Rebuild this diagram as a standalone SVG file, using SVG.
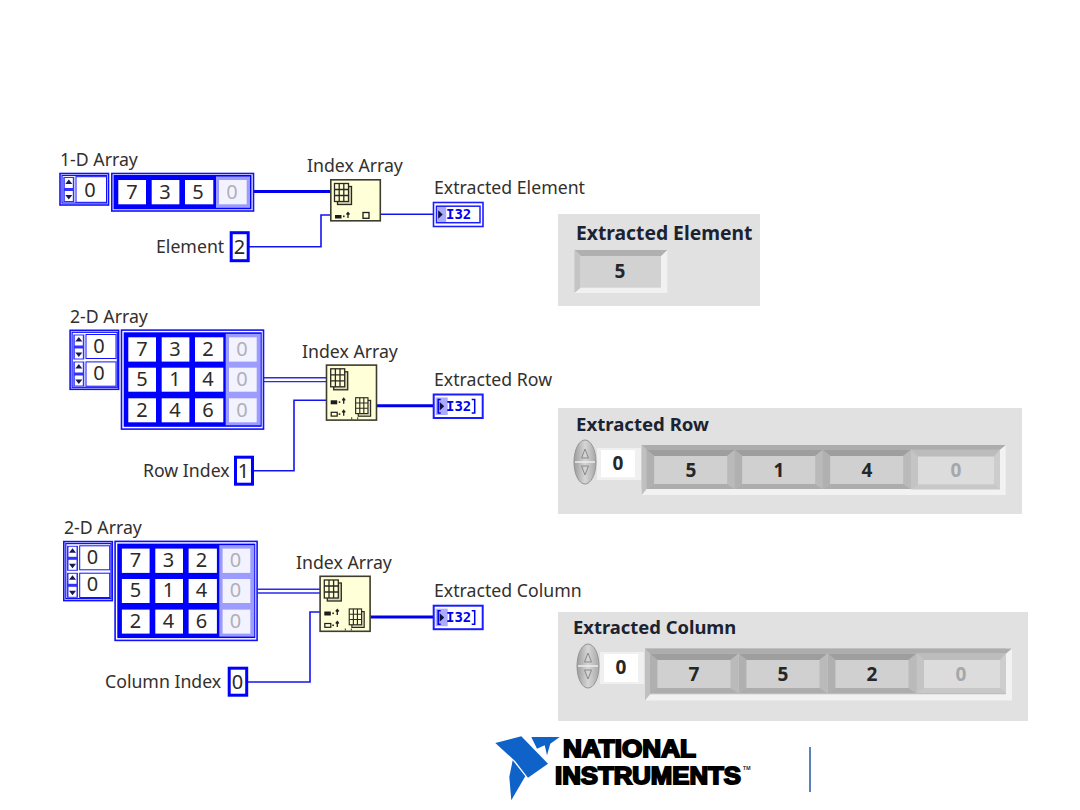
<svg xmlns="http://www.w3.org/2000/svg" xmlns:xlink="http://www.w3.org/1999/xlink" width="1080" height="810" viewBox="0 0 1080 810">
<style>
text{font-family:"Noto Sans","Open Sans","Liberation Sans",sans-serif}
.lbl{font-size:17.7px;fill:#33302e}
.d{font-size:20px;fill:#2e2a28;text-anchor:middle}
.df{font-size:20px;fill:#b0b0b8;text-anchor:middle}
.i32{font-family:"DejaVu Sans Mono","Liberation Mono",monospace;font-weight:bold;font-size:14px;fill:#0000ee}
.pl{font-weight:bold;fill:#1c2330}
.pd{font-size:19px;font-weight:bold;fill:#262626;text-anchor:middle}
.pf{font-size:19px;font-weight:bold;fill:#a4a8ac;text-anchor:middle}
.w1{fill:none;stroke:#1414f0;stroke-width:1.6}
.w3{fill:none;stroke:#0000ee;stroke-width:3}
.w2{fill:none;stroke:#2a2aee;stroke-width:1.4}
.oln{fill:#fff;stroke:#1010ff;stroke-width:1.6}
.cell{fill:#fff}
.fcell{fill:#f3f3ff}
.nd{fill:#ffffd8;stroke:#3c3c30;stroke-width:1.6}
.ic{stroke:#2a2a20;stroke-width:1.3}
.pan{fill:#e1e1e1}
.brand{font-family:"Liberation Sans",sans-serif;font-size:23.5px;font-weight:bold;fill:#000;stroke:#000;stroke-width:1.8}
</style>
<defs>
  <linearGradient id="spinFill" x1="0" y1="0" x2="1" y2="0">
    <stop offset="0" stop-color="#9c9c9c"/>
    <stop offset=".5" stop-color="#d6d6d6"/>
    <stop offset="1" stop-color="#a8a8a8"/>
  </linearGradient>
  <!-- array index spinner -->
  <g id="spin">
    <rect width="11" height="25" fill="#3030ff"/>
    <rect x="1.500" y="1" width="8" height="10" fill="#fff"/>
    <rect x="1.500" y="14" width="8" height="10" fill="#fff"/>
    <path d="M5.500 2.500L9 7H2Z M5.500 22.500L9 18H2Z" fill="#1a1a50"/>
  </g>
  <!-- layered 2-D grid glyph on Index Array -->
  <g id="grid">
    <rect x="3.500" y="3.500" width="14" height="18" fill="#d8d8b8" class="ic"/>
    <rect x="0.500" y="0.500" width="14" height="18" fill="#ffffd8" class="ic"/>
    <path d="M5.200 .5V18.500M9.800 .5V18.500M.5 6.500H14.500M.5 12.500H14.500" fill="none" class="ic"/>
  </g>
  <!-- small index-terminal tick -->
  <g id="tick">
    <rect x="0" y="0" width="1.600" height="1.600" fill="#222"/>
    <path d="M5 -2.500V2.500M3.500 -1L5 -3L6.500 -1" fill="none" stroke="#222" stroke-width="1.300"/>
  </g>
  <!-- Index Array with a row or column output -->
  <g id="idx2d">
    <rect x=".8" y=".8" width="50" height="55" class="nd"/>
    <use xlink:href="#grid" href="#grid" x="4.500" y="4"/>
    <use xlink:href="#grid" href="#grid" transform="translate(29.500 33) scale(.88)"/>
    <rect x="5" y="36" width="6.500" height="4" fill="#1c1c1c"/>
    <use xlink:href="#tick" href="#tick" x="13" y="37"/>
    <rect x="5.500" y="48" width="6" height="3.800" fill="none" stroke="#1c1c1c" stroke-width="1.200"/>
    <use xlink:href="#tick" href="#tick" x="13" y="49"/>
    <path d="M26 53v2M32 53v2" stroke="#333" stroke-width="1"/>
  </g>
  <!-- terminal frame for the scalar I32 indicator -->
  <g id="ind">
    <rect x=".8" y=".8" width="49.500" height="24" fill="#fff" stroke="#1c1cff" stroke-width="1.600"/>
    <rect x="3.800" y="4.500" width="43.500" height="16.500" fill="#fff" stroke="#1c1cff" stroke-width="1.500"/>
    <rect x="4.500" y="5.300" width="9" height="15" fill="#aaaaff"/>
    <path d="M5.500 8.500L10 12.700L5.500 17Z" fill="#10103a"/>
  </g>
  <!-- terminal frame for the array I32 indicators -->
  <g id="inda">
    <rect x="1" y="1" width="49" height="23.500" fill="#fff" stroke="#1c1cff" stroke-width="2"/>
    <rect x="3" y="4" width="12" height="17.500" fill="#aaaaff"/>
    <path d="M8 6h-2.500v13.500h2.500M39 6h3v13.500h-3" fill="none" stroke="#0000ee" stroke-width="1.500"/>
    <path d="M7 8.500L11.500 12.700L7 17Z" fill="#10103a"/>
  </g>
  <!-- diagram array frame with three rows -->
  <g id="arr3">
    <rect x=".8" y=".8" width="142" height="99" fill="#fff" stroke="#1010ff" stroke-width="1.600"/>
    <rect x="3" y="3" width="138" height="94.500" fill="#0000ff"/>
    <rect x="105" y="4.500" width="35" height="91.500" fill="#9c9cff"/>
    <g class="cell">
      <rect x="7.600" y="8" width="27.700" height="24.300"/><rect x="41" y="8" width="27.700" height="24.300"/><rect x="74.300" y="8" width="28.300" height="24.300"/>
      <rect x="7.600" y="38.400" width="27.700" height="24"/><rect x="41" y="38.400" width="27.700" height="24"/><rect x="74.300" y="38.400" width="28.300" height="24"/>
      <rect x="7.600" y="69" width="27.700" height="24"/><rect x="41" y="69" width="27.700" height="24"/><rect x="74.300" y="69" width="28.300" height="24"/>
    </g>
    <g class="fcell">
      <rect x="108.300" y="8" width="27.700" height="24.300"/><rect x="108.300" y="38.400" width="27.700" height="24"/><rect x="108.300" y="69" width="27.700" height="24"/>
    </g>
  </g>
  <!-- pair of index controls for a 2-D array -->
  <g id="ix2">
    <rect x=".8" y=".8" width="48.500" height="59" class="oln"/>
    <rect x="2.800" y="2.800" width="45.200" height="55" fill="none" stroke="#1010ff" stroke-width="1.200"/>
    <use xlink:href="#spin" href="#spin" x="4" y="5"/>
    <use xlink:href="#spin" href="#spin" x="4" y="32"/>
    <rect x="16.700" y="5" width="30" height="24" fill="#fff" stroke="#1010ff" stroke-width="1"/>
    <rect x="16.700" y="32.400" width="30" height="24.300" fill="#fff" stroke="#1010ff" stroke-width="1"/>
  </g>
  <!-- front-panel numeric indicator with raised bevel -->
  <g id="fcell">
    <path d="M0 0H88L80.500 6H7.500Z" fill="#9e9e9e"/>
    <path d="M0 0L7.500 6V34L0 39Z" fill="#b0b0b0"/>
    <path d="M0 39L7.500 34H80.500L88 39Z" fill="#adadad"/>
    <path d="M88 0L80.500 6V34L88 39Z" fill="#bababa"/>
    <rect x="7.500" y="6" width="73" height="28" fill="#d0d0d0"/>
  </g>
  <g id="fcellf">
    <path d="M0 0H89L83 7H7Z" fill="#bcbcbc"/>
    <path d="M0 0L7 7V35L0 40Z" fill="#c4c4c4"/>
    <path d="M0 40L7 35H83L89 40Z" fill="#c8c8c8"/>
    <path d="M89 0L83 7V35L89 40Z" fill="#cdcdcd"/>
    <rect x="7" y="7" width="76" height="28" fill="#dcdcdc"/>
  </g>
  <!-- front-panel index spinner -->
  <g id="fspin">
    <ellipse cx="11" cy="22" rx="11" ry="22" fill="url(#spinFill)" stroke="#949494"/>
    <path d="M1 22H21" stroke="#eee" stroke-width="1.500"/>
    <path d="M11 9L14.500 18H7.500Z M11 35L14.500 26H7.500Z" fill="none" stroke="#8a8a8a"/>
  </g>
  <!-- front-panel array frame -->
  <g id="fframe">
    <rect width="364" height="50" fill="#f2f2f2"/>
    <rect width="358" height="44" fill="#bdbdbd"/>
    <path d="M0 0H364L358 5H5Z" fill="#adadad"/>
    <path d="M0 0L5 5V44L0 50Z" fill="#c0c0c0"/>
  </g>
</defs>

<rect width="1080" height="810" fill="#fff"/>

<g id="connectors">
  <path class="w3" d="M254 191.500H332"/>
  <path class="w1" d="M249 246.700H321V215H331"/>
  <path class="w1" d="M381 214.300H434"/>
  <path class="w2" d="M264 377.800H327M264 381.600H327"/>
  <path class="w1" d="M254 470.700H294V400.300H326"/>
  <path class="w3" d="M377 405.700H434"/>
  <path class="w2" d="M257.500 589.200H320M257.500 593H320"/>
  <path class="w1" d="M248 682H310V612H320"/>
  <path class="w3" d="M370.500 617H434"/>
</g>

<g id="array-1d">
  <text class="lbl" x="60" y="166">1-D Array</text>
  <rect x="60" y="173.500" width="48.500" height="31.500" class="oln"/>
  <rect x="62" y="175.500" width="44.500" height="27.500" fill="none" stroke="#1010ff" stroke-width="1.200"/>
  <use xlink:href="#spin" href="#spin" x="63.300" y="177"/>
  <rect x="76" y="176.700" width="30.500" height="25.600" fill="#fff" stroke="#1010ff" stroke-width="1"/>
  <text class="d" x="90" y="196.500">0</text>
  <rect x="111.800" y="173.500" width="141.700" height="37.500" fill="#fff" stroke="#1010ff" stroke-width="1.600"/>
  <rect x="113.500" y="175" width="138" height="34.300" fill="#0000ff"/>
  <rect x="216" y="176.500" width="34" height="31.300" fill="#9c9cff"/>
  <g class="cell">
    <rect x="118.300" y="180" width="27.700" height="24.300"/>
    <rect x="151.700" y="180" width="27.700" height="24.300"/>
    <rect x="185" y="180" width="28.300" height="24.300"/>
  </g>
  <rect x="219" y="180" width="27.700" height="24.300" class="fcell"/>
  <text class="d" x="132" y="199">7</text>
  <text class="d" x="165" y="199">3</text>
  <text class="d" x="198" y="199">5</text>
  <text class="df" x="232" y="199">0</text>
</g>

<g id="element-control">
  <text class="lbl" x="156" y="253">Element</text>
  <rect x="231.200" y="232.700" width="17" height="28" fill="#fff" stroke="#0000ff" stroke-width="3"/>
  <text class="d" x="239.500" y="253.500">2</text>
</g>

<g id="index-array-1">
  <text class="lbl" x="307" y="172">Index Array</text>
  <rect x="330.800" y="179.800" width="49.500" height="41" class="nd"/>
  <use xlink:href="#grid" href="#grid" x="334" y="183"/>
  <rect x="335" y="215" width="6.500" height="3.500" fill="#1c1c1c"/>
  <use xlink:href="#tick" href="#tick" x="343" y="215.500"/>
  <rect x="363" y="212.500" width="6" height="5.800" fill="none" stroke="#1c1c1c" stroke-width="1.300"/>
</g>

<g id="element-indicator">
  <text class="lbl" x="434" y="194">Extracted Element</text>
  <use xlink:href="#ind" href="#ind" x="432.700" y="201.700"/>
  <text class="i32" x="446" y="219">I32</text>
</g>

<g id="array-2d-row">
  <text class="lbl" x="70" y="323">2-D Array</text>
  <use xlink:href="#ix2" href="#ix2" x="69.300" y="329.500"/>
  <use xlink:href="#arr3" href="#arr3" x="120.700" y="329.300"/>
  <text class="d" x="142" y="356">7</text><text class="d" x="175" y="356">3</text><text class="d" x="208" y="356">2</text><text class="df" x="242" y="356">0</text>
  <text class="d" x="142" y="386">5</text><text class="d" x="175" y="386">1</text><text class="d" x="208" y="386">4</text><text class="df" x="242" y="386">0</text>
  <text class="d" x="142" y="417">2</text><text class="d" x="175" y="417">4</text><text class="d" x="208" y="417">6</text><text class="df" x="242" y="417">0</text>
  <text class="d" x="99" y="353">0</text><text class="d" x="99" y="380">0</text>
</g>

<g id="row-index-control">
  <text class="lbl" x="143" y="477">Row Index</text>
  <rect x="235.500" y="457.200" width="17" height="27" fill="#fff" stroke="#0000ff" stroke-width="3"/>
  <text class="d" x="243.500" y="477.500">1</text>
</g>

<g id="index-array-2">
  <text class="lbl" x="302" y="358">Index Array</text>
  <use xlink:href="#idx2d" href="#idx2d" x="325.700" y="364.300"/>
</g>

<g id="row-indicator">
  <text class="lbl" x="434" y="386">Extracted Row</text>
  <use xlink:href="#inda" href="#inda" x="432.700" y="393.500"/>
  <text class="i32" x="446" y="411">I32</text>
</g>

<g id="array-2d-col">
  <text class="lbl" x="64" y="534">2-D Array</text>
  <use xlink:href="#ix2" href="#ix2" x="63" y="540.800"/>
  <use xlink:href="#arr3" href="#arr3" x="114.300" y="540.600"/>
  <text class="d" x="135.500" y="567">7</text><text class="d" x="168.500" y="567">3</text><text class="d" x="201.500" y="567">2</text><text class="df" x="235.500" y="567">0</text>
  <text class="d" x="135.500" y="597">5</text><text class="d" x="168.500" y="597">1</text><text class="d" x="201.500" y="597">4</text><text class="df" x="235.500" y="597">0</text>
  <text class="d" x="135.500" y="628">2</text><text class="d" x="168.500" y="628">4</text><text class="d" x="201.500" y="628">6</text><text class="df" x="235.500" y="628">0</text>
  <text class="d" x="92.500" y="564">0</text><text class="d" x="92.500" y="591">0</text>
</g>

<g id="column-index-control">
  <text class="lbl" x="105" y="688">Column Index</text>
  <rect x="229.200" y="668.200" width="17.500" height="27" fill="#fff" stroke="#0000ff" stroke-width="3"/>
  <text class="d" x="237.500" y="688.500">0</text>
</g>

<g id="index-array-3">
  <text class="lbl" x="296" y="569">Index Array</text>
  <use xlink:href="#idx2d" href="#idx2d" x="319.300" y="575.500"/>
</g>

<g id="column-indicator">
  <text class="lbl" x="434" y="597">Extracted Column</text>
  <use xlink:href="#inda" href="#inda" x="432.700" y="604.700"/>
  <text class="i32" x="446" y="622">I32</text>
</g>

<g id="panel-element">
  <rect class="pan" x="558" y="214" width="202" height="92"/>
  <text class="pl" x="576" y="240" font-size="19.300">Extracted Element</text>
  <rect x="574.300" y="250" width="93" height="43" fill="#f1f1f1"/>
  <path d="M574.300 250H667.300L661 256H580.700Z" fill="#b0b0b0"/>
  <path d="M574.300 250L580.700 256V287.700L574.300 293Z" fill="#c4c4c4"/>
  <rect x="580.700" y="256" width="80.300" height="31.700" fill="#d2d2d2"/>
  <text class="pd" x="620" y="278">5</text>
</g>

<g id="panel-row">
  <rect class="pan" x="558" y="408" width="464" height="106"/>
  <text class="pl" x="576" y="431" font-size="18.600">Extracted Row</text>
  <use xlink:href="#fspin" href="#fspin" x="574" y="440"/>
  <rect x="597" y="448" width="44" height="32" fill="#f0f0f0"/>
  <rect x="601" y="450" width="34" height="27.300" fill="#fff"/>
  <text class="pd" x="618" y="470">0</text>
  <use xlink:href="#fframe" href="#fframe" x="641.700" y="445"/>
  <use xlink:href="#fcell" href="#fcell" x="646.700" y="450"/>
  <use xlink:href="#fcell" href="#fcell" x="734.700" y="450"/>
  <use xlink:href="#fcell" href="#fcell" x="822.700" y="450"/>
  <use xlink:href="#fcellf" href="#fcellf" x="911" y="449.500"/>
  <text class="pd" x="691" y="477">5</text>
  <text class="pd" x="779" y="477">1</text>
  <text class="pd" x="867" y="477">4</text>
  <text class="pf" x="956" y="477">0</text>
</g>

<g id="panel-column">
  <rect class="pan" x="558" y="612" width="470" height="109"/>
  <text class="pl" x="573" y="634" font-size="18.400">Extracted Column</text>
  <use xlink:href="#fspin" href="#fspin" x="577" y="644"/>
  <rect x="600" y="652" width="44" height="32" fill="#f0f0f0"/>
  <rect x="604" y="654" width="34" height="28" fill="#fff"/>
  <text class="pd" x="621" y="674">0</text>
  <use xlink:href="#fframe" href="#fframe" transform="translate(645 648.500) scale(1.008 1.040)"/>
  <use xlink:href="#fcell" href="#fcell" x="650" y="654"/>
  <use xlink:href="#fcell" href="#fcell" x="739" y="654"/>
  <use xlink:href="#fcell" href="#fcell" x="828" y="654"/>
  <use xlink:href="#fcellf" href="#fcellf" x="917" y="653"/>
  <text class="pd" x="694" y="681">7</text>
  <text class="pd" x="783" y="681">5</text>
  <text class="pd" x="872" y="681">2</text>
  <text class="pf" x="961" y="681">0</text>
</g>

<g id="logo">
  <path d="M495.300 743L521.300 736.300L548 763.700L528 777.700L515.300 761.300Z" fill="#0f62c8"/>
  <path d="M512.700 760.300L525.300 776.300L511.300 800.300L509.300 777Z" fill="#0f62c8"/>
  <path d="M531.300 737H559.700L550.300 743.700L547 755.300L544.700 745.300L537 748.700Z" fill="#0f62c8"/>
  <text class="brand" x="563" y="756.500" textLength="133" lengthAdjust="spacingAndGlyphs">NATIONAL</text>
  <text class="brand" x="555" y="783.500" textLength="186" lengthAdjust="spacingAndGlyphs">INSTRUMENTS</text>
  <text x="743" y="769.500" font-size="5" font-weight="bold" fill="#333">TM</text>
</g>
<rect id="footer-rule" x="809" y="747" width="2" height="45" fill="#5b82bb"/>
</svg>
